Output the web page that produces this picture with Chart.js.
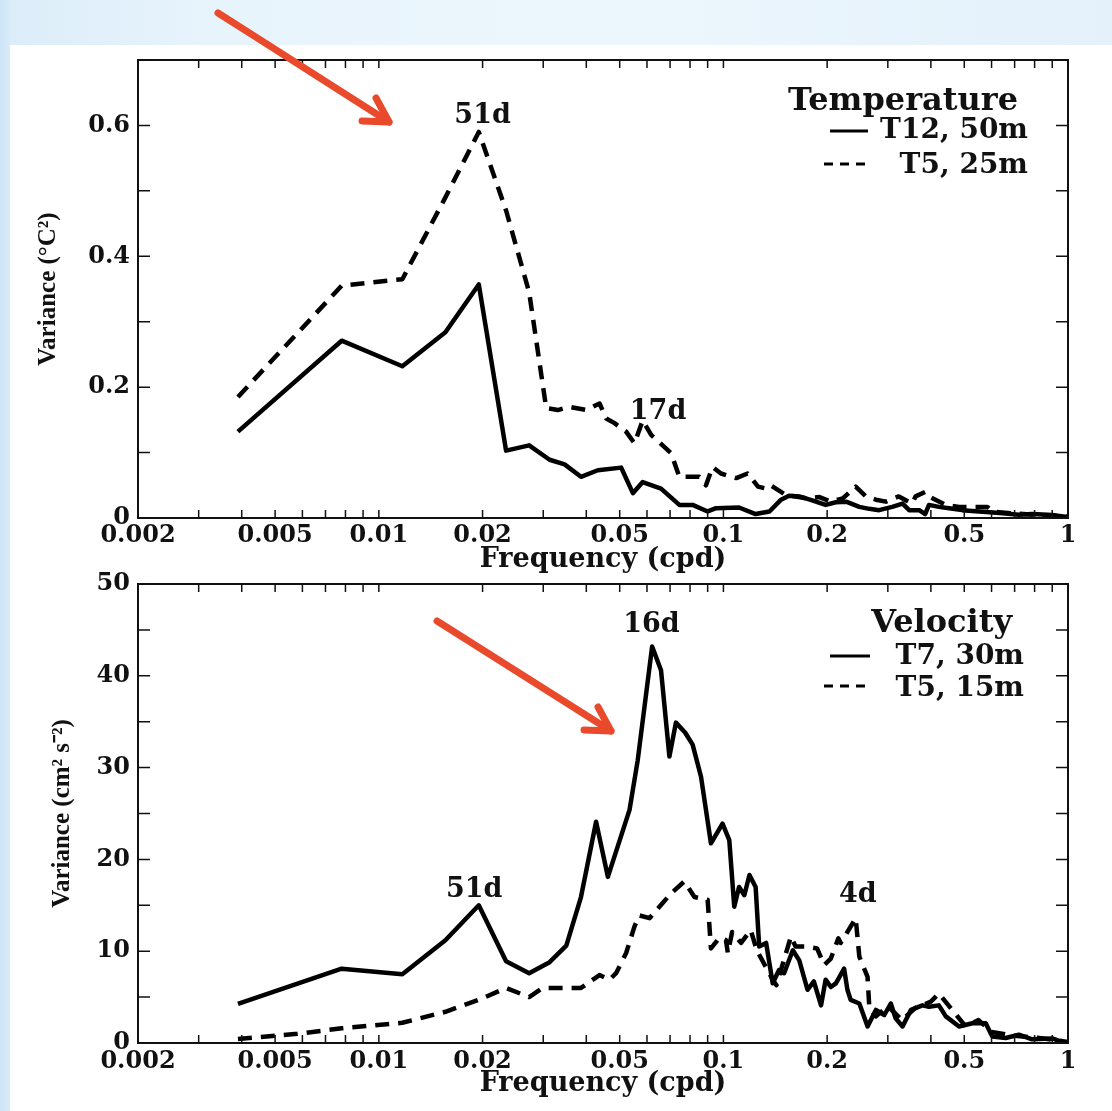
<!DOCTYPE html>
<html>
<head>
<meta charset="utf-8">
<script src="https://cdn.jsdelivr.net/npm/chart.js@4.4.1/dist/chart.umd.min.js"></script>
<style>
  html, body { margin: 0; padding: 0; }
  body {
    width: 1112px; height: 1111px; position: relative; overflow: hidden;
    background: linear-gradient(90deg, #cde4f6 0px, #dcedf9 12px, #e8f4fc 220px, #ecf6fd 640px, #e4f1fb 1112px);
  }
  #panel { position: absolute; left: 10px; top: 45px; width: 1102px; height: 1066px; background: #fff; }
  canvas { position: absolute; left: 0; }
  #tempChart { top: 0; }
  #velChart { top: 556px; }
  #arrows { position: absolute; left: 0; top: 0; }
</style>
</head>
<body>
<div id="panel"></div>
<canvas id="tempChart" width="1112" height="578"></canvas>
<canvas id="velChart" width="1112" height="555"></canvas>
<svg id="arrows" width="1112" height="1111">
  <g stroke="#e94a2c" stroke-width="7" stroke-linecap="round" stroke-linejoin="round" fill="none">
    <line x1="218" y1="13" x2="389" y2="122"/>
    <polyline points="362,121 389,122 376,98"/>
    <line x1="437" y1="621" x2="611" y2="731"/>
    <polyline points="584,730 611,731 598,707"/>
  </g>
</svg>
<script>
// temperature spectrum, T12 at 50m (solid)
const tempFreqT12 = [0.0039, 0.0078, 0.0117, 0.0156, 0.0195, 0.0234, 0.0273, 0.0313, 0.0346, 0.0386,
  0.0432, 0.0505, 0.0546, 0.0583, 0.0659, 0.0745, 0.0814, 0.09, 0.0952, 0.111,
  0.124, 0.136, 0.147, 0.155, 0.166, 0.181, 0.198, 0.212, 0.227, 0.248,
  0.265, 0.283, 0.309, 0.331, 0.346, 0.37, 0.385, 0.395, 0.422, 0.452,
  0.493, 0.552, 0.62, 0.659, 0.72, 0.787, 0.9, 0.98, 1.0];
const tempT12 = [0.132, 0.271, 0.232, 0.284, 0.357, 0.103, 0.111, 0.089, 0.082, 0.063,
  0.073, 0.077, 0.038, 0.055, 0.045, 0.020, 0.020, 0.010, 0.015, 0.016,
  0.006, 0.010, 0.028, 0.034, 0.033, 0.027, 0.020, 0.024, 0.025, 0.017,
  0.014, 0.012, 0.017, 0.022, 0.012, 0.012, 0.006, 0.020, 0.017, 0.015,
  0.012, 0.010, 0.008, 0.007, 0.005, 0.006, 0.0046, 0.002, 0.001];

// temperature spectrum, T5 at 25m (dashed)
const tempFreqT5 = [0.0039, 0.0078, 0.0117, 0.0156, 0.0195, 0.0234, 0.0273, 0.0306, 0.0331, 0.0357,
  0.040, 0.0437, 0.0457, 0.0483, 0.0522, 0.0552, 0.0583, 0.0617, 0.0705, 0.0728,
  0.0745, 0.0851, 0.089, 0.093, 0.0984, 0.109, 0.1175, 0.126, 0.133, 0.137,
  0.152, 0.162, 0.175, 0.19, 0.205, 0.222, 0.242, 0.259, 0.277, 0.296,
  0.323, 0.353, 0.361, 0.386, 0.395, 0.442, 0.483, 0.528, 0.583, 0.603,
  0.689, 0.8, 1.0];
const tempT5 = [0.185, 0.355, 0.365, 0.49, 0.59, 0.47, 0.345, 0.168, 0.165, 0.170,
  0.165, 0.175, 0.152, 0.145, 0.132, 0.114, 0.149, 0.127, 0.099, 0.078,
  0.063, 0.063, 0.050, 0.078, 0.068, 0.061, 0.068, 0.048, 0.045, 0.050,
  0.035, 0.033, 0.030, 0.032, 0.025, 0.030, 0.048, 0.033, 0.028, 0.025,
  0.033, 0.022, 0.033, 0.040, 0.033, 0.020, 0.017, 0.017, 0.017, 0.010,
  0.007, 0.005, 0.002];

// velocity spectrum, T7 at 30m (solid)
const velFreqT7 = [0.0039, 0.0078, 0.0117, 0.0156, 0.0195, 0.0234, 0.0273, 0.0313, 0.035, 0.0386,
  0.0427, 0.0462, 0.0534, 0.0564, 0.0621, 0.0659, 0.0697, 0.0728, 0.0775, 0.0814,
  0.0861, 0.092, 0.0994, 0.104, 0.1075, 0.111, 0.115, 0.119, 0.124, 0.127,
  0.133, 0.139, 0.145, 0.150, 0.159, 0.166, 0.1754, 0.183, 0.192, 0.198,
  0.205, 0.212, 0.224, 0.229, 0.234, 0.248, 0.262, 0.277, 0.293, 0.306,
  0.316, 0.331, 0.35, 0.378, 0.395, 0.422, 0.442, 0.483, 0.528, 0.577,
  0.603, 0.659, 0.72, 0.787, 0.9, 0.973, 1.0];
const velT7 = [4.25, 8.1, 7.5, 11.2, 15.0, 8.9, 7.6, 8.8, 10.6, 15.9,
  24.1, 18.1, 25.4, 30.8, 43.2, 40.6, 31.2, 34.9, 33.8, 32.5,
  29.0, 21.75, 23.9, 22.1, 14.85, 17.0, 16.1, 18.3, 17.0, 10.5,
  10.9, 6.5, 7.95, 7.6, 10.1, 9.0, 5.8, 6.7, 4.1, 6.9,
  6.1, 6.5, 8.1, 5.8, 4.7, 4.3, 1.8, 3.6, 3.05, 4.3,
  2.7, 1.8, 3.6, 4.1, 3.95, 4.1, 2.9, 1.8, 2.15, 2.15,
  0.7, 0.55, 0.9, 0.4, 0.5, 0.05, 0.05];

// velocity spectrum, T5 at 15m (dashed)
const velFreqT5 = [0.0039, 0.0058, 0.0078, 0.0117, 0.0156, 0.0195, 0.0234, 0.0273, 0.0299, 0.0338,
  0.0386, 0.0437, 0.0467, 0.0488, 0.0522, 0.0552, 0.057, 0.061, 0.0652, 0.0705,
  0.077, 0.0824, 0.09, 0.092, 0.0975, 0.1017, 0.103, 0.106, 0.1125, 0.12,
  0.125, 0.139, 0.1425, 0.157, 0.162, 0.1736, 0.187, 0.196, 0.205, 0.2155,
  0.219, 0.2325, 0.242, 0.248, 0.262, 0.265, 0.277, 0.30, 0.33, 0.36,
  0.40, 0.422, 0.461, 0.505, 0.55, 0.60, 0.70, 0.85, 1.0];
const velT5 = [0.44, 1.0, 1.6, 2.2, 3.4, 4.7, 6.0, 5.0, 6.0, 6.0,
  6.0, 7.4, 6.9, 7.6, 9.8, 12.7, 13.9, 13.6, 14.85, 16.3,
  17.6, 15.9, 15.6, 10.3, 11.5, 11.2, 9.8, 12.1, 10.9, 12.3,
  10.1, 6.9, 6.3, 11.6, 10.5, 10.5, 10.3, 8.5, 9.2, 11.4,
  10.9, 12.5, 13.6, 9.4, 7.2, 3.95, 2.9, 4.0, 2.5, 3.8,
  4.5, 5.4, 3.6, 1.8, 2.5, 1.2, 0.8, 0.5, 0.1];

// x axis ticks (log scale) and which of them carry a label
const xTickValues = [0.002, 0.003, 0.004, 0.005, 0.006, 0.007, 0.008, 0.009,
  0.01, 0.02, 0.03, 0.04, 0.05, 0.06, 0.07, 0.08, 0.09,
  0.1, 0.2, 0.3, 0.4, 0.5, 0.6, 0.7, 0.8, 0.9, 1];
const xLabelValues = [0.002, 0.005, 0.01, 0.02, 0.05, 0.1, 0.2, 0.5, 1];
const xLabelText = ['0.002', '0.005', '0.01', '0.02', '0.05', '0.1', '0.2', '0.5', '1'];

// period labels over the peaks
const tempPeakText = ['51d', '17d'];
const tempPeakFreq = [0.02, 0.0646];
const tempPeakLevel = [0.604, 0.151];
const velPeakText = ['16d', '51d', '4d'];
const velPeakFreq = [0.0618, 0.0189, 0.2456];
const velPeakLevel = [44.8, 15.9, 15.4];

const serif = "'DejaVu Serif', serif";
const ink = '#111';

function toPoints(xs, ys) {
  return xs.map((f, i) => ({x: f, y: ys[i]}));
}

// box round the plot with ticks pointing inwards on all four sides
const frameTicks = {
  id: 'frameTicks',
  afterDraw(chart) {
    const {ctx, chartArea: a, scales: {x, y}} = chart;
    ctx.save();
    ctx.strokeStyle = ink;
    ctx.lineWidth = 2;
    ctx.strokeRect(a.left, a.top, a.right - a.left, a.bottom - a.top);
    ctx.lineWidth = 1.5;
    ctx.beginPath();
    x.ticks.forEach(t => {
      const px = x.getPixelForValue(t.value);
      ctx.moveTo(px, a.bottom); ctx.lineTo(px, a.bottom - 8);
      ctx.moveTo(px, a.top); ctx.lineTo(px, a.top + 8);
    });
    y.ticks.forEach(t => {
      const py = y.getPixelForValue(t.value);
      ctx.moveTo(a.left, py); ctx.lineTo(a.left + 12, py);
      ctx.moveTo(a.right, py); ctx.lineTo(a.right - 12, py);
    });
    ctx.stroke();
    ctx.restore();
  }
};

// peak labels and the little legend block in the top right corner
const notes = {
  id: 'notes',
  afterDraw(chart, args, opts) {
    const {ctx, chartArea: a, scales: {x, y}} = chart;
    ctx.save();
    ctx.fillStyle = ink;
    ctx.font = 'bold 27px ' + serif;
    ctx.textAlign = 'center';
    ctx.textBaseline = 'alphabetic';
    opts.peakText.forEach((txt, i) => {
      ctx.fillText(txt, x.getPixelForValue(opts.peakFreq[i]), y.getPixelForValue(opts.peakLevel[i]));
    });

    const L = opts.legend;
    ctx.textAlign = 'right';
    ctx.font = 'bold 32px ' + serif;
    ctx.fillText(L.title, a.right - L.titleInset, a.top + L.titleY);
    ctx.font = 'bold 28px ' + serif;
    ctx.strokeStyle = '#000';
    ctx.lineWidth = 3;
    L.items.forEach(it => {
      ctx.fillText(it.text, a.right - L.textInset, a.top + it.textY);
      ctx.setLineDash(it.dash);
      ctx.beginPath();
      ctx.moveTo(a.right - it.from, a.top + it.lineY);
      ctx.lineTo(a.right - it.to, a.top + it.lineY);
      ctx.stroke();
    });
    ctx.restore();
  }
};

function makeChart(id, cfg) {
  return new Chart(document.getElementById(id), {
    type: 'line',
    data: {
      datasets: [{
        label: cfg.names[0],
        data: cfg.solid,
        borderColor: '#000',
        borderWidth: 4.5,
        pointRadius: 0,
        tension: 0,
        borderJoinStyle: 'round'
      }, {
        label: cfg.names[1],
        data: cfg.dashed,
        borderColor: '#000',
        borderWidth: 4.5,
        borderDash: [14, 9],
        pointRadius: 0,
        tension: 0,
        borderJoinStyle: 'round'
      }]
    },
    options: {
      responsive: false,
      animation: false,
      devicePixelRatio: 1,
      events: [],
      layout: { padding: cfg.padding },
      plugins: {
        legend: { display: false },
        tooltip: { enabled: false },
        notes: {
          peakText: cfg.peakText, peakFreq: cfg.peakFreq, peakLevel: cfg.peakLevel,
          legend: cfg.legend
        }
      },
      scales: {
        x: {
          type: 'logarithmic',
          min: 0.002,
          max: 1,
          afterBuildTicks: s => { s.ticks = xTickValues.map(v => ({value: v})); },
          afterFit: s => { s.height = cfg.xHeight; },
          grid: { display: false, drawTicks: false },
          border: { display: false },
          ticks: {
            autoSkip: false, maxRotation: 0, minRotation: 0,
            padding: cfg.xTickPad,
            color: ink,
            font: { family: serif, weight: 'bold', size: 24 },
            callback: v => {
              const i = xLabelValues.indexOf(v);
              return i >= 0 ? xLabelText[i] : '';
            }
          },
          title: {
            display: true,
            text: 'Frequency (cpd)',
            color: ink,
            font: { family: serif, weight: 'bold', size: 27 },
            padding: { top: 0, bottom: cfg.xTitlePad }
          }
        },
        y: {
          min: 0,
          max: cfg.yMax,
          afterFit: s => { s.width = 138; },
          grid: { display: false, drawTicks: false },
          border: { display: false },
          ticks: {
            stepSize: cfg.yStep,
            padding: 8,
            color: ink,
            font: { family: serif, weight: 'bold', size: 24 },
            callback: cfg.yLabel
          },
          title: {
            display: true,
            text: cfg.yTitle,
            color: ink,
            font: { family: "'Liberation Serif', serif", weight: 'bold', size: 25 },
            padding: { top: cfg.yTitlePad, bottom: 0 }
          }
        }
      }
    },
    plugins: [frameTicks, notes]
  });
}

makeChart('tempChart', {
  names: ['T12, 50m', 'T5, 25m'],
  solid: toPoints(tempFreqT12, tempT12),
  dashed: toPoints(tempFreqT5, tempT5),
  padding: { left: 0, right: 44, top: 60, bottom: 0 },
  xHeight: 60,
  xTickPad: 3,
  xTitlePad: 2,
  yMax: 0.7,
  yStep: 0.1,
  yLabel: v => {
    const k = Math.round(v * 10);
    if (k === 0) return '0';
    return (k % 2 === 0 && k < 7) ? (k / 10).toFixed(1) : '';
  },
  yTitle: 'Variance (°C²)',
  yTitlePad: 34,
  peakText: tempPeakText, peakFreq: tempPeakFreq, peakLevel: tempPeakLevel,
  legend: {
    title: 'Temperature', titleInset: 50, titleY: 50, textInset: 40,
    items: [
      { text: 'T12, 50m', textY: 78, lineY: 71, from: 238, to: 200, dash: [] },
      { text: 'T5, 25m', textY: 113, lineY: 104, from: 244, to: 202, dash: [9, 7] }
    ]
  }
});

makeChart('velChart', {
  names: ['T7, 30m', 'T5, 15m'],
  solid: toPoints(velFreqT7, velT7),
  dashed: toPoints(velFreqT5, velT5),
  padding: { left: 0, right: 44, top: 28, bottom: 0 },
  xHeight: 68,
  xTickPad: 4,
  xTitlePad: 11,
  yMax: 50,
  yStep: 5,
  yLabel: v => (Math.round(v) % 10 === 0 ? String(Math.round(v)) : ''),
  yTitle: 'Variance (cm² s⁻²)',
  yTitlePad: 48,
  peakText: velPeakText, peakFreq: velPeakFreq, peakLevel: velPeakLevel,
  legend: {
    title: 'Velocity', titleInset: 56, titleY: 48, textInset: 44,
    items: [
      { text: 'T7, 30m', textY: 80, lineY: 72, from: 238, to: 198, dash: [] },
      { text: 'T5, 15m', textY: 112, lineY: 102, from: 244, to: 203, dash: [9, 7] }
    ]
  }
});
</script>
</body>
</html>
